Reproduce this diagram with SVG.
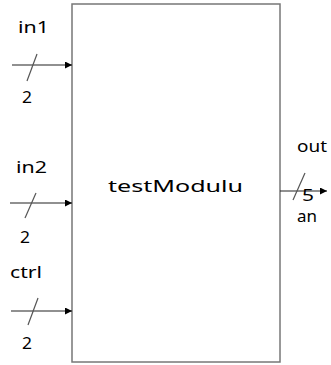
<svg xmlns="http://www.w3.org/2000/svg" width="331" height="365" viewBox="0 0 331 365">
<style>
text{font-family:"Noto Sans","Open Sans","Liberation Sans",sans-serif;fill:#000;font-size:17px}
.wire{stroke:#222;stroke-width:1.2;fill:none}
.tick{stroke:#555;stroke-width:1.2}
</style>
<defs>
<marker id="ah" viewBox="0 0 10 10" refX="10" refY="5" markerWidth="8" markerHeight="7" markerUnits="userSpaceOnUse" orient="auto">
<path d="M0,0 L10,5 L0,10 z" fill="#000"/>
</marker>
</defs>
<rect width="331" height="365" fill="#fff"/>
<g id="module">
<rect x="72" y="4" width="208" height="358" fill="#fff" stroke="#777" stroke-width="1.5"/>
<text x="108" y="192" font-size="19" textLength="135" lengthAdjust="spacingAndGlyphs">testModulu</text>
</g>
<g id="connectors">
<line class="wire" x1="12" y1="65" x2="72" y2="65" marker-end="url(#ah)"/>
<line class="tick" x1="37" y1="54" x2="27" y2="81"/>
<line class="wire" x1="10" y1="203" x2="72" y2="203" marker-end="url(#ah)"/>
<line class="tick" x1="36" y1="193" x2="25" y2="218"/>
<line class="wire" x1="11" y1="311" x2="72" y2="311" marker-end="url(#ah)"/>
<line class="tick" x1="38" y1="298" x2="28" y2="325"/>
<line class="wire" x1="280" y1="191" x2="327" y2="191" marker-end="url(#ah)"/>
<line class="tick" x1="305" y1="173" x2="293" y2="200"/>
</g>
<g id="in1">
<text x="18" y="33" textLength="31" lengthAdjust="spacingAndGlyphs">in1</text>
<text x="22" y="103" font-size="18" textLength="10" lengthAdjust="spacingAndGlyphs">2</text>
</g>
<g id="in2">
<text x="16" y="173" textLength="31" lengthAdjust="spacingAndGlyphs">in2</text>
<text x="20" y="243" font-size="18" textLength="10" lengthAdjust="spacingAndGlyphs">2</text>
</g>
<g id="ctrl">
<text x="10" y="278" textLength="32" lengthAdjust="spacingAndGlyphs">ctrl</text>
<text x="22" y="349" font-size="18" textLength="10" lengthAdjust="spacingAndGlyphs">2</text>
</g>
<g id="out">
<text x="297" y="152" textLength="30" lengthAdjust="spacingAndGlyphs">out</text>
<text x="302" y="201" font-size="17" textLength="12" lengthAdjust="spacingAndGlyphs">5</text>
<text x="297" y="222" textLength="20" lengthAdjust="spacingAndGlyphs">an</text>
</g>
</svg>
